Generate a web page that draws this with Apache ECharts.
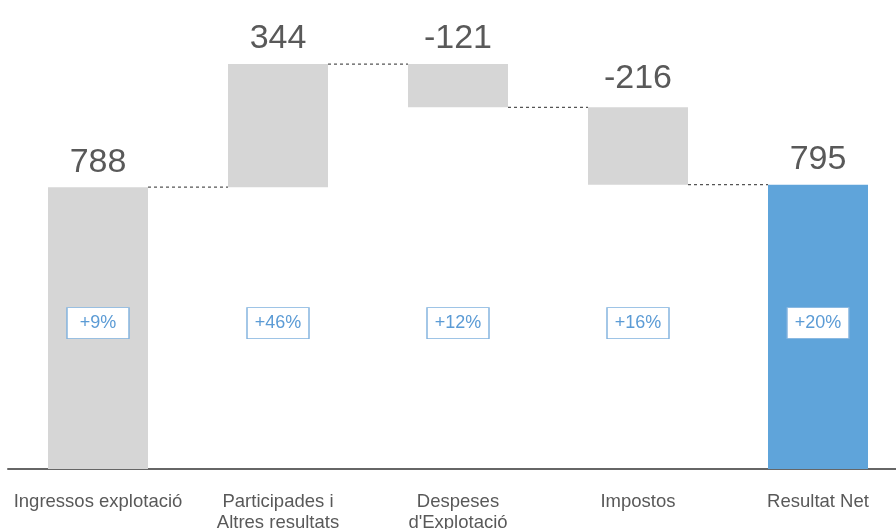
<!DOCTYPE html>
<html>
<head>
<meta charset="utf-8">
<script src="https://cdn.jsdelivr.net/npm/echarts@6/dist/echarts.min.js"></script>
<style>
html,body{margin:0;padding:0;background:#fff;}
#chart{width:896px;height:529px;}
</style>
</head>
<body>
<div id="chart"></div>
<script>
var categories = ['Ingressos explotació', 'Participades i\nAltres resultats', 'Despeses\nd\'Explotació', 'Impostos', 'Resultat Net'];
var changes = [788, 344, -121, -216, 795];
var isTotal = [true, false, false, false, true];
var pctLabels = ['+9%', '+46%', '+12%', '+16%', '+20%'];
var pctLevel = 408;

// derived waterfall values
var baseVals = [], barVals = [], levels = [];
var running = 0;
for (var i = 0; i < changes.length; i++) {
  if (isTotal[i]) {
    baseVals.push(0);
    barVals.push(changes[i]);
    running = changes[i];
  } else {
    var next = running + changes[i];
    baseVals.push(Math.min(running, next));
    barVals.push(Math.abs(changes[i]));
    running = next;
  }
  levels.push(running);
}
var connectors = [];
for (var j = 0; j < levels.length - 1; j++) connectors.push([j, levels[j], j + 1]);

var GRAY = '#d6d6d6', BLUE = '#5fa4da';
var BAR_W = 100;
var labelDist = [8, 8, 8, 12, 8];

var chart = echarts.init(document.getElementById('chart'));
chart.setOption({
  animation: false,
  grid: {left: 8, width: 900, top: 4, bottom: 60, containLabel: false, outerBoundsMode: 'none'},
  xAxis: {
    type: 'category',
    data: categories,
    axisLine: {show: true, lineStyle: {color: '#666', width: 2}},
    axisTick: {show: false},
    axisLabel: {color: '#595959', fontSize: 18.5, lineHeight: 21, margin: 22, fontFamily: 'Liberation Sans, Arial, sans-serif', interval: 0}
  },
  yAxis: {type: 'value', min: 0, max: 1300, show: false, splitLine: {show: false}},
  series: [
    {
      type: 'bar', stack: 'w', barWidth: BAR_W,
      itemStyle: {color: 'transparent'},
      data: baseVals, silent: true
    },
    {
      type: 'bar', stack: 'w', barWidth: BAR_W,
      data: barVals.map(function (v, i) {
        return {value: v, itemStyle: {color: i === barVals.length - 1 ? BLUE : GRAY},
                label: {distance: labelDist[i]}};
      }),
      label: {
        show: true, position: 'top', distance: 8,
        color: '#595959', fontSize: 34, fontFamily: 'Liberation Sans, Arial, sans-serif',
        formatter: function (p) { return String(changes[p.dataIndex]); }
      }
    },
    {
      type: 'custom',
      data: connectors,
      renderItem: function (params, api) {
        var p1 = api.coord([api.value(0), api.value(1)]);
        var p2 = api.coord([api.value(2), api.value(1)]);
        return {
          type: 'line',
          shape: {x1: p1[0] + BAR_W / 2, y1: p1[1], x2: p2[0] - BAR_W / 2, y2: p2[1]},
          style: {stroke: '#555', lineWidth: 1.3, lineDash: [3, 3]}
        };
      },
      z: 5
    },
    {
      type: 'scatter',
      symbol: 'rect',
      symbolSize: [62, 31],
      itemStyle: {color: '#fff', borderColor: '#7fb1de', borderWidth: 1, opacity: 1},
      emphasis: {disabled: true},
      data: pctLabels.map(function (t, i) { return [i, pctLevel]; }),
      label: {
        show: true, position: 'inside', color: '#5b9bd5', fontSize: 18,
        fontFamily: 'Liberation Sans, Arial, sans-serif',
        formatter: function (p) { return pctLabels[p.dataIndex]; }
      },
      z: 10
    }
  ]
});
</script>
</body>
</html>
